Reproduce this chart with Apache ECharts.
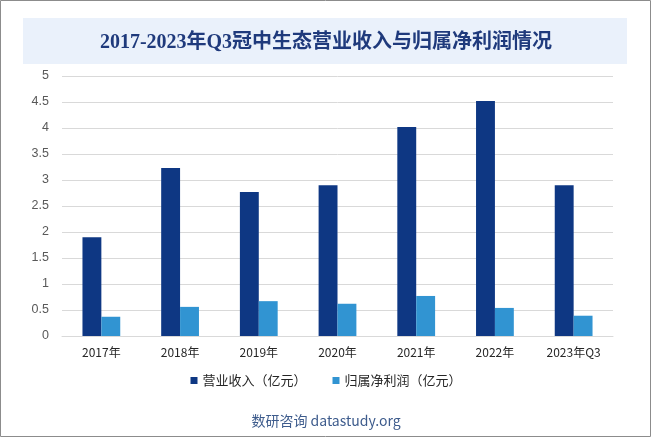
<!DOCTYPE html>
<html>
<head>
<meta charset="utf-8">
<script src="https://cdn.jsdelivr.net/npm/echarts@6/dist/echarts.min.js"></script>
<style>
html, body { margin: 0; padding: 0; background: #fff; }
#chart { width: 652px; height: 438px; }
</style>
</head>
<body>
<div id="chart"></div>
<script>
const categories = ["2017年", "2018年", "2019年", "2020年", "2021年", "2022年", "2023年Q3"];
const revenue = [1.90, 3.23, 2.77, 2.90, 4.02, 4.52, 2.90];
const netProfit = [0.37, 0.56, 0.67, 0.62, 0.77, 0.54, 0.39];
const seriesNames = ["营业收入（亿元）", "归属净利润（亿元）"];

const chart = echarts.init(document.getElementById("chart"));

chart.setOption({
	animation: false,
	color: ["#0e3783", "#3194d2"],
	graphic: [
		{
			// outer frame
			type: "rect",
			shape: { x: 0.5, y: 0.5, width: 650, height: 436 },
			style: { fill: "none", stroke: "#8c8c8c", lineWidth: 1 }
		},
		{
			// title band
			type: "rect",
			shape: { x: 23, y: 18, width: 604, height: 46 },
			style: { fill: "#eaf1fb" },
			z: -1
		},
		{
			type: "text",
			left: "center",
			top: 414,
			style: {
				text: "数研咨询 datastudy.org",
				fill: "#3d5b8c",
				font: "14px 'Noto Sans CJK SC', sans-serif"
			}
		}
	],
	title: {
		text: "2017-2023年Q3冠中生态营业收入与归属净利润情况",
		left: "center",
		top: 28,
		textStyle: {
			color: "#1f3a7c",
			fontSize: 20,
			fontWeight: "bold",
			fontFamily: "'Liberation Serif', 'Noto Sans CJK SC', serif"
		}
	},
	legend: {
		bottom: 46,
		left: "center",
		itemWidth: 7,
		itemHeight: 7,
		itemGap: 26,
		icon: "rect",
		textStyle: {
			color: "#262626",
			fontSize: 13,
			fontFamily: "'Noto Sans CJK SC', sans-serif"
		},
		data: seriesNames
	},
	grid: {
		top: 76,
		left: 62,
		right: 39,
		bottom: 102
	},
	xAxis: {
		type: "category",
		data: categories,
		axisTick: { show: false },
		axisLine: { lineStyle: { color: "#d9d9d9" } },
		axisLabel: {
			color: "#262626",
			fontSize: 12,
			margin: 10,
			fontFamily: "'Noto Sans CJK SC', sans-serif"
		}
	},
	yAxis: {
		type: "value",
		min: 0,
		max: 5,
		interval: 0.5,
		axisLine: { show: false },
		axisTick: { show: false },
		splitLine: { lineStyle: { color: "#d9d9d9" } },
		axisLabel: {
			color: "#595959",
			fontSize: 12.5,
			margin: 13,
			fontFamily: "'Liberation Sans', sans-serif"
		}
	},
	series: [
		{
			name: seriesNames[0],
			type: "bar",
			barWidth: "24%",
			barGap: "0%",
			data: revenue
		},
		{
			name: seriesNames[1],
			type: "bar",
			barWidth: "24%",
			barGap: "0%",
			data: netProfit
		}
	]
});
</script>
</body>
</html>
